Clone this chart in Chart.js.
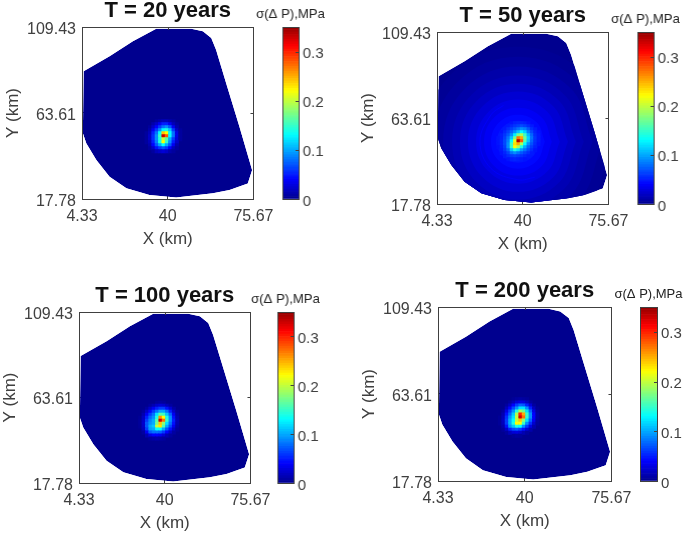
<!DOCTYPE html>
<html><head><meta charset="utf-8">
<style>
html,body{margin:0;padding:0;background:#fff;width:685px;height:534px;overflow:hidden}
canvas{position:absolute;filter:blur(0.45px)}
</style>
<script src="https://cdn.jsdelivr.net/npm/chart.js@4"></script>
</head><body>
<script>
// ---------- data (km, MPa) ----------
const xTicks=[4.33,40,75.67];
const yTicks=[17.78,63.61,109.43];
const colorTicks=[0,0.1,0.2,0.3];
const titles=['T = 20 years','T = 50 years','T = 100 years','T = 200 years'];
const colorLabel='σ(Δ P),MPa';
const colorEdges=[0,.005,.01,.015,.02,.025,.03,.035,.04,.045,.05,.055,.06,.065,.07,.075,.08,.085,.09,.095,.1,.105,.11,.115,.12,.125,.13,.135,.14,.145,.15,.155,.16,.165,.17,.175,.18,.185,.19,.195,.2,.205,.21,.215,.22,.225,.23,.235,.24,.245,.25,.255,.26,.265,.27,.275,.28,.285,.29,.295,.3,.305,.31,.315,.32,.325,.33,.335,.34,.345,.35];
// reservoir outline
const outline=[[5,85.8],[15.8,93.8],[25.5,101.8],[35.2,108.5],[49.8,108.5],[54.6,107.1],[58.1,103.6],[60.1,97.3],[64.3,79.5],[69.8,56.4],[75.1,33.2],[73.3,26.1],[65.7,22.6],[58.8,20.8],[43.5,18.6],[32.4,19.9],[22.8,23.5],[15.8,29.7],[10.3,38.6],[6.1,47.5],[4.7,52.8],[5,85.8]];
// cell centres of the well-area grid
const gridX=[29.8,31.2,32.6,34,35.4,36.8,38.2,39.6,41,42.4,43.8,45.2,46.6];
const gridY=[60.8,59.2,57.6,56,54.4,52.8,51.2,49.6,48,46.4,44.8,43.2,41.6];
const cells20=[
[0,0,0,0,0,0,0,0,0,0,0,0,0],
[0,0,0,0,.005,.01,.015,.015,.01,.005,0,0,0],
[0,0,0,.01,.02,.035,.05,.05,.035,.015,.005,0,0],
[0,0,.005,.02,.04,.06,.08,.09,.07,.035,.01,0,0],
[0,0,.01,.035,.06,.09,.13,.14,.11,.06,.02,.005,0],
[0,.005,.015,.05,.08,.13,.24,.22,.13,.08,.03,.005,0],
[0,.005,.02,.055,.09,.15,.33,.28,.13,.08,.03,.005,0],
[0,.005,.02,.055,.09,.14,.2,.16,.1,.06,.025,.005,0],
[0,.005,.015,.05,.085,.14,.22,.15,.09,.05,.02,0,0],
[0,0,.01,.04,.07,.1,.13,.1,.07,.035,.01,0,0],
[0,0,.005,.02,.045,.06,.07,.06,.04,.015,.005,0,0],
[0,0,0,.005,.015,.02,.025,.02,.01,.005,0,0,0],
[0,0,0,0,0,0,0,0,0,0,0,0,0]];
const cells50=[
[0,0,0,0,.046,.05,.052,.052,.05,.046,0,0,0],
[0,0,0,.048,.053,.058,.062,.066,.062,.055,.048,0,0],
[0,0,.048,.055,.062,.07,.08,.09,.085,.07,.055,.048,0],
[0,.046,.053,.062,.075,.09,.11,.13,.115,.085,.065,.052,.046],
[0,.05,.058,.07,.09,.125,.17,.19,.15,.105,.075,.055,.048],
[.046,.05,.062,.08,.11,.17,.27,.25,.17,.115,.08,.058,.048],
[.046,.052,.065,.085,.13,.21,.34,.28,.16,.11,.075,.056,.048],
[.046,.052,.065,.09,.15,.23,.25,.19,.13,.09,.068,.054,.046],
[.044,.05,.062,.09,.15,.22,.19,.14,.1,.075,.06,.05,0],
[0,.048,.058,.075,.11,.14,.12,.095,.08,.065,.054,.046,0],
[0,.046,.052,.062,.08,.09,.08,.07,.062,.055,.048,0,0],
[0,0,.048,.054,.06,.063,.06,.056,.052,.048,0,0,0],
[0,0,0,.046,.05,.052,.05,.048,.046,0,0,0,0]];
const cells100=[
[0,0,0,0,0,.004,.006,.004,0,0,0,0,0],
[0,0,0,.005,.012,.02,.025,.022,.014,.006,0,0,0],
[0,0,.006,.02,.035,.05,.06,.06,.045,.025,.008,0,0],
[0,.005,.02,.04,.06,.08,.1,.1,.08,.05,.02,.004,0],
[0,.012,.035,.06,.08,.12,.16,.15,.11,.075,.035,.008,0],
[.003,.018,.05,.075,.09,.14,.26,.22,.14,.09,.045,.012,0],
[.004,.02,.06,.085,.1,.16,.33,.27,.15,.09,.05,.014,0],
[.004,.022,.07,.09,.1,.17,.24,.18,.12,.08,.045,.012,0],
[.003,.02,.07,.1,.11,.2,.23,.16,.1,.065,.035,.008,0],
[0,.015,.06,.095,.1,.13,.13,.1,.07,.045,.02,.004,0],
[0,.006,.035,.07,.08,.08,.075,.06,.04,.02,.006,0,0],
[0,0,.012,.03,.04,.04,.035,.025,.012,.005,0,0,0],
[0,0,0,.005,.008,.01,.008,.005,0,0,0,0,0]];
const cells200=[
[0,0,0,0,.003,.006,.008,.006,.004,0,0,0,0],
[0,0,0,.005,.014,.025,.03,.028,.018,.006,0,0,0],
[0,0,.005,.018,.04,.06,.075,.07,.05,.025,.006,0,0],
[0,0,.015,.04,.065,.09,.12,.12,.09,.05,.018,.003,0],
[0,.006,.03,.06,.09,.14,.19,.17,.12,.075,.03,.005,0],
[0,.012,.045,.075,.11,.19,.3,.25,.15,.09,.04,.008,0],
[.003,.015,.055,.09,.12,.2,.33,.27,.15,.09,.04,.008,0],
[.003,.018,.06,.1,.13,.2,.24,.18,.12,.075,.035,.006,0],
[.003,.016,.06,.1,.14,.22,.22,.15,.09,.055,.022,.004,0],
[0,.01,.045,.09,.11,.14,.13,.09,.06,.03,.01,0,0],
[0,.004,.02,.05,.065,.07,.06,.045,.025,.01,0,0,0],
[0,0,.005,.015,.025,.028,.022,.012,.005,0,0,0,0],
[0,0,0,0,.003,.005,.004,0,0,0,0,0,0]];
// pressure halo at T = 50 years: contour levels and their closed loops
const haloLevels=[.002,.005,.009,.013,.018,.024,.03,.036,.042,.047];
const haloLoop1=[[77.4,51],[65.9,86.8],[38,101.6],[10.1,86.8],[-1.4,51],[10.1,15.2],[38,.4],[65.9,15.2],[77.4,51]];
const haloLoop2=[[73.3,51],[62.9,83],[38,96.3],[13.1,83],[2.7,51],[13.1,19],[38,5.7],[62.9,19],[73.3,51]];
const haloLoop3=[[69.1,51],[60,79.3],[38,91],[16,79.3],[6.9,51],[16,22.7],[38,11],[60,22.7],[69.1,51]];
const haloLoop4=[[65.4,51],[57.4,75.9],[38,86.2],[18.6,75.9],[10.6,51],[18.6,26.1],[38,15.8],[57.4,26.1],[65.4,51]];
const haloLoop5=[[62.1,51],[55,72.9],[38,81.9],[21,72.9],[13.9,51],[21,29.1],[38,20.1],[55,29.1],[62.1,51]];
const haloLoop6=[[58.8,51],[52.7,69.9],[38,77.7],[23.3,69.9],[17.2,51],[23.3,32.1],[38,24.3],[52.7,32.1],[58.8,51]];
const haloLoop7=[[55.4,51],[50.3,66.8],[38,73.4],[25.7,66.8],[20.6,51],[25.7,35.2],[38,28.6],[50.3,35.2],[55.4,51]];
const haloLoop8=[[52.1,51],[48,63.8],[38,69.1],[28,63.8],[23.9,51],[28,38.2],[38,32.9],[48,38.2],[52.1,51]];
const haloLoop9=[[49.2,51],[45.9,61.2],[38,65.4],[30.1,61.2],[26.8,51],[30.1,40.8],[38,36.6],[45.9,40.8],[49.2,51]];
const haloLoop10=[[46.7,51],[44.2,58.9],[38,62.2],[31.8,58.9],[29.3,51],[31.8,43.1],[38,39.8],[44.2,43.1],[46.7,51]];
const haloLoops=[haloLoop1,haloLoop2,haloLoop3,haloLoop4,haloLoop5,haloLoop6,haloLoop7,haloLoop8,haloLoop9,haloLoop10];
// faint brighter arc on the lower-left of the T = 50 years halo
const haloRingLevel=.037;
const haloRing=[[32,70.3],[26.8,65.3],[22.2,51],[26.8,36.7],[38,30.7],[45,32]];

// ---------- layout and style ----------
const panels=[
 {cells:cells20, halo:false,l:82,  t:27, w:172,h:172,bl:282,bw:16.5},
 {cells:cells50, halo:true, l:437, t:32, w:172,h:172,bl:637,bw:16.5},
 {cells:cells100,halo:false,l:78.5,t:312,w:172,h:171,bl:277,bw:16.5},
 {cells:cells200,halo:false,l:438, t:307,w:174,h:174,bl:640,bw:17}
];
const FONT='"Liberation Sans",Arial,sans-serif';
const INK='#404040';
const CMAX=.35;
function jet(v){
  const t=1/64+Math.min(v/CMAX,1)*62/64;
  const c=x=>Math.round(255*Math.max(0,Math.min(1,1.5-Math.abs(4*t-x))));
  return `rgb(${c(3)},${c(2)},${c(1)})`;
}
function newCanvas(l,t,w,h){
  const c=document.createElement('canvas');
  c.width=w;c.height=h;
  c.style.left=l+'px';c.style.top=t+'px';c.style.width=w+'px';c.style.height=h+'px';
  document.body.appendChild(c);
  return c.getContext('2d');
}
const pts=a=>a.map(p=>({x:p[0],y:p[1]}));
const clipToOutline={
  id:'clipToOutline',
  beforeDatasetsDraw(ch){
    const {ctx,scales:{x,y}}=ch;
    ctx.save();ctx.beginPath();
    outline.forEach((p,i)=>{const a=x.getPixelForValue(p[0]),b=y.getPixelForValue(p[1]);i?ctx.lineTo(a,b):ctx.moveTo(a,b);});
    ctx.closePath();ctx.clip();
  },
  afterDatasetsDraw(ch){ch.ctx.restore();}
};
const frame={
  id:'frame',
  afterDraw(ch){
    const {ctx,chartArea:a,scales:{x,y}}=ch;
    ctx.save();ctx.strokeStyle=INK;ctx.lineWidth=1;
    ctx.strokeRect(Math.round(a.left)+.5,Math.round(a.top)+.5,Math.round(a.width),Math.round(a.height));
    ctx.beginPath();
    xTicks.forEach(v=>{const p=Math.round(x.getPixelForValue(v))+.5;ctx.moveTo(p,a.top);ctx.lineTo(p,a.top+3);});
    yTicks.forEach(v=>{const p=Math.round(y.getPixelForValue(v))+.5;ctx.moveTo(a.right,p);ctx.lineTo(a.right-3,p);});
    ctx.stroke();ctx.restore();
  }
};
Chart.defaults.animation=false;
Chart.defaults.responsive=false;
Chart.defaults.events=[];
Chart.defaults.font.family=FONT;

panels.forEach((p,n)=>{
  const ML=82,MT=29,MB=52,MR=30;
  const ctx=newCanvas(p.l-ML,p.t-MT,ML+p.w+MR,MT+p.h+MB);
  const ds=[];
  const cellPts=[],cellCols=[];
  p.cells.forEach((row,j)=>row.forEach((v,i)=>{
    if(v>0){cellPts.push({x:gridX[i],y:gridY[j]});cellCols.push(jet(v));}
  }));
  ds.push({data:cellPts,showLine:false,pointStyle:'rect',pointRadius:2.8,pointBorderWidth:0,pointBackgroundColor:cellCols});
  if(p.halo){
    ds.push({data:pts(haloRing),showLine:true,fill:false,tension:.4,borderWidth:1,pointRadius:0,borderColor:jet(haloRingLevel)});
    for(let k=haloLoops.length-1;k>=0;k--){
      ds.push({data:pts(haloLoops[k]),showLine:true,fill:'shape',tension:.4,borderWidth:0,pointRadius:0,backgroundColor:jet(haloLevels[k]),borderColor:jet(haloLevels[k])});
    }
  }
  ds.push({data:pts(outline),showLine:true,fill:'shape',tension:0,borderWidth:0,pointRadius:0,backgroundColor:jet(0),borderColor:jet(0)});
  new Chart(ctx,{
    type:'scatter',
    data:{datasets:ds},
    plugins:[clipToOutline,frame],
    options:{
      layout:{padding:{left:0,top:0,bottom:0,right:MR}},
      plugins:{
        legend:{display:false},tooltip:{enabled:false},
        title:{display:true,text:titles[n],color:'#111',fullSize:false,font:{size:22,weight:'bold',lineHeight:1.2},padding:{top:0,bottom:MT-26.4}}
      },
      scales:{
        x:{type:'linear',min:xTicks[0],max:xTicks[2],
           afterBuildTicks:s=>{s.ticks=xTicks.map(v=>({value:v}));},
           afterFit:s=>{s.height=MB;},
           grid:{drawOnChartArea:false,tickLength:-3,tickColor:INK},
           border:{color:INK},
           ticks:{autoSkip:false,maxRotation:0,padding:10.5,color:INK,font:{size:16},callback:v=>String(v)},
           title:{display:true,text:'X (km)',color:INK,font:{size:17},padding:{top:0,bottom:1}}},
        y:{type:'linear',min:yTicks[0],max:yTicks[2],
           afterBuildTicks:s=>{s.ticks=yTicks.map(v=>({value:v}));},
           afterFit:s=>{s.width=ML;},
           grid:{drawOnChartArea:false,tickLength:-3,tickColor:INK},
           border:{color:INK},
           ticks:{autoSkip:false,padding:9,labelOffset:2.5,color:INK,font:{size:16},callback:v=>String(v)},
           title:{display:true,text:'Y (km)',color:INK,font:{size:17},padding:{top:3,bottom:0}}}
      }
    }
  });
  // colour bar
  const CS=40,CT=20,CB=10;
  const cctx=newCanvas(p.bl-CS,p.t-CT,CS+p.bw+CS,CT+p.h+CB);
  const bars=colorEdges.slice(0,-1).map((e,i)=>({data:[[e,colorEdges[i+1]]],backgroundColor:jet((e+colorEdges[i+1])/2),borderWidth:0,grouped:false,barPercentage:1,categoryPercentage:1}));
  new Chart(cctx,{
    type:'bar',
    data:{labels:[''],datasets:bars},
    plugins:[{id:'barFrame',afterDraw(ch){
      const {ctx,chartArea:a,scales:{y}}=ch;
      ctx.save();ctx.strokeStyle=INK;ctx.lineWidth=1;
      ctx.strokeRect(Math.round(a.left)+.5,Math.round(a.top)+.5,Math.round(a.width),Math.round(a.height));
      ctx.beginPath();
      colorTicks.forEach(v=>{const q=Math.round(y.getPixelForValue(v))+.5;ctx.moveTo(a.right,q);ctx.lineTo(a.right-3,q);});
      ctx.stroke();ctx.restore();
    }}],
    options:{
      layout:{padding:{left:0,right:0,top:0,bottom:CB}},
      plugins:{
        legend:{display:false},tooltip:{enabled:false},
        title:{display:true,text:colorLabel,color:'#222',font:{size:13,weight:'normal',lineHeight:1.2},padding:{top:0,bottom:CT-15.6}}
      },
      scales:{
        x:{display:false},
        y:{position:'right',min:0,max:CMAX,
           afterBuildTicks:s=>{s.ticks=colorTicks.map(v=>({value:v}));},
           afterFit:s=>{s.width=CS;s.paddingTop=0;s.paddingBottom=0;},
           grid:{drawTicks:false,drawOnChartArea:false},
           border:{display:false},
           ticks:{autoSkip:false,padding:4,labelOffset:2.5,color:INK,font:{size:15},callback:v=>String(v)}},
        spacer:{position:'left',display:true,min:0,max:1,
           afterFit:s=>{s.width=CS;s.paddingTop=0;s.paddingBottom=0;},
           grid:{display:false,drawTicks:false},
           border:{display:false},
           ticks:{display:false}}
      }
    }
  });
});
</script>
</body></html>
